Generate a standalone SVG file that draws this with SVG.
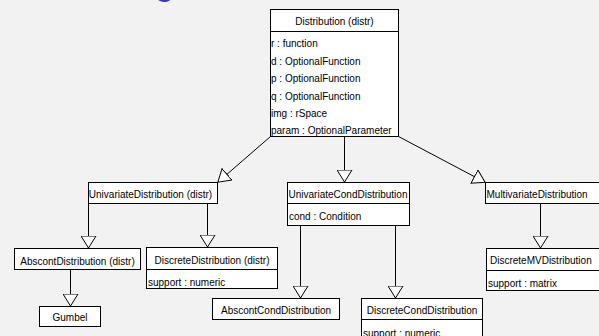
<svg xmlns="http://www.w3.org/2000/svg" width="599" height="336" viewBox="0 0 599 336">
<style>
.box{fill:#fff;stroke:#000;stroke-width:1}
.ln{stroke:#000;stroke-width:1;fill:none}
text{font-family:"Liberation Sans",Arial,Helvetica,sans-serif;font-size:10px;fill:#000}
.c{text-anchor:middle}
</style>
<defs>
<marker id="tri" viewBox="0 0 13 16" refX="13" refY="8" markerWidth="13" markerHeight="16" markerUnits="userSpaceOnUse" orient="auto">
<path d="M0.5,0.5 L12.5,8 L0.5,15.5 Z" fill="#fff" stroke="#000" stroke-width="1"/>
</marker>
</defs>
<rect width="599" height="336" fill="#f2f2f2"/>
<text x="155" y="-5" style="font-size:34px;fill:#3838bb">g</text>

<g id="connectors">
<line class="ln" x1="270.5" y1="136.5" x2="217.5" y2="182.5" marker-end="url(#tri)"/>
<line class="ln" x1="344.5" y1="136.5" x2="344.5" y2="182.5" marker-end="url(#tri)"/>
<line class="ln" x1="398.5" y1="136.5" x2="485.5" y2="182.5" marker-end="url(#tri)"/>
<line class="ln" x1="88.5" y1="203.5" x2="88.5" y2="248.5" marker-end="url(#tri)"/>
<line class="ln" x1="207.5" y1="203.5" x2="207.5" y2="247.5" marker-end="url(#tri)"/>
<line class="ln" x1="300.5" y1="225.5" x2="300.5" y2="298.5" marker-end="url(#tri)"/>
<line class="ln" x1="395.5" y1="225.5" x2="395.5" y2="298.5" marker-end="url(#tri)"/>
<line class="ln" x1="540.5" y1="203.5" x2="540.5" y2="248.5" marker-end="url(#tri)"/>
<line class="ln" x1="70.5" y1="269.5" x2="70.5" y2="306.5" marker-end="url(#tri)"/>
</g>

<g id="distribution">
<rect class="box" x="270.5" y="9.5" width="128" height="127"/>
<line class="ln" x1="270.5" y1="31.5" x2="398.5" y2="31.5"/>
<text class="c" x="334.5" y="25">Distribution (distr)</text>
<text x="271" y="47">r : function</text>
<text x="271" y="64.5">d : OptionalFunction</text>
<text x="271" y="82">p : OptionalFunction</text>
<text x="271" y="99.5">q : OptionalFunction</text>
<text x="271" y="117">img : rSpace</text>
<text x="271" y="134">param : OptionalParameter</text>
</g>

<g id="univariate">
<rect class="box" x="88.5" y="182.5" width="129" height="21"/>
<text class="c" x="150.5" y="198">UnivariateDistribution (distr)</text>
</g>

<g id="univariatecond">
<rect class="box" x="287.5" y="182.5" width="122" height="43"/>
<line class="ln" x1="287.5" y1="203.5" x2="409.5" y2="203.5"/>
<text class="c" x="348" y="198">UnivariateCondDistribution</text>
<text x="289" y="220">cond : Condition</text>
</g>

<g id="multivariate">
<rect class="box" x="485.5" y="182.5" width="115" height="21"/>
<text x="486.5" y="198">MultivariateDistribution</text>
</g>

<g id="abscont">
<rect class="box" x="14.5" y="248.5" width="126" height="21"/>
<text class="c" x="77.5" y="264.5">AbscontDistribution (distr)</text>
</g>

<g id="discrete">
<rect class="box" x="146.5" y="247.5" width="131" height="41"/>
<line class="ln" x1="146.5" y1="269.5" x2="277.5" y2="269.5"/>
<text class="c" x="212" y="264">DiscreteDistribution (distr)</text>
<text x="148" y="285.5">support : numeric</text>
</g>

<g id="gumbel">
<rect class="box" x="39.5" y="306.5" width="61" height="20"/>
<text class="c" x="70" y="321">Gumbel</text>
</g>

<g id="abscontcond">
<rect class="box" x="212.5" y="298.5" width="127" height="21"/>
<text class="c" x="276" y="314">AbscontCondDistribution</text>
</g>

<g id="discretecond">
<rect class="box" x="361.5" y="298.5" width="121" height="45"/>
<line class="ln" x1="361.5" y1="319.5" x2="482.5" y2="319.5"/>
<text class="c" x="422" y="314">DiscreteCondDistribution</text>
<text x="363" y="336.5">support : numeric</text>
</g>

<g id="discretemv">
<rect class="box" x="486.5" y="248.5" width="115" height="42"/>
<line class="ln" x1="486.5" y1="270.5" x2="601.5" y2="270.5"/>
<text x="490" y="264">DiscreteMVDistribution</text>
<text x="488" y="286.5">support : matrix</text>
</g>
</svg>
